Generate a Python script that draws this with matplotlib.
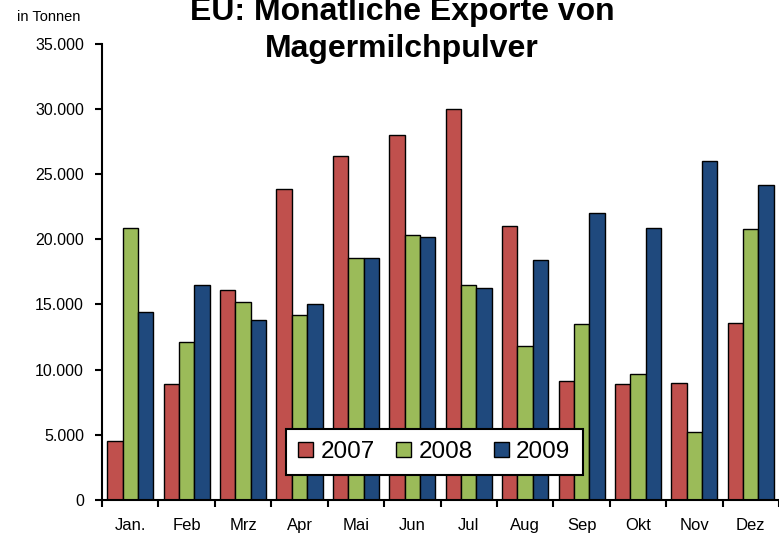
import numpy as np
import matplotlib
matplotlib.use("Agg")
import matplotlib.pyplot as plt
from matplotlib.ticker import FuncFormatter, FixedLocator

plt.rcParams['font.family'] = ['Liberation Sans', 'DejaVu Sans']

# data (tonnes)
months = ['Jan.', 'Feb', 'Mrz', 'Apr', 'Mai', 'Jun', 'Jul', 'Aug', 'Sep', 'Okt', 'Nov', 'Dez']
exp_2007 = [4500, 8900, 16100, 23900, 26400, 28000, 30000, 21000, 9100, 8900, 9000, 13600]
exp_2008 = [20900, 12100, 15200, 14200, 18600, 20300, 16500, 11800, 13500, 9700, 5200, 20800]
exp_2009 = [14400, 16500, 13800, 15000, 18600, 20200, 16300, 18400, 22000, 20900, 26000, 24200]
years = ['2007', '2008', '2009']
colors = ['#C0504D', '#9BBB59', '#1F497D']

fig = plt.figure(figsize=(7.79, 5.36), dpi=100)
ax = fig.add_axes([0.131, 0.0672, 0.869, 0.851])

x = np.arange(len(months))
w = 0.272
for i, (vals, lab, c) in enumerate(zip([exp_2007, exp_2008, exp_2009], years, colors)):
    ax.bar(x + (i - 1) * w, vals, width=w, color=c, edgecolor='black',
           linewidth=1.0, label=lab, zorder=2)

ax.set_xlim(-0.5, 11.5)
ax.set_ylim(0, 35000)
ax.set_yticks(np.arange(0, 35001, 5000))
ax.yaxis.set_major_formatter(FuncFormatter(lambda v, p: f"{int(v):,}".replace(',', '.')))
ax.set_xticks(x)
ax.set_xticklabels(months)
ax.xaxis.set_minor_locator(FixedLocator(np.arange(-0.5, 12, 1)))
ax.tick_params(axis='x', which='major', length=0, pad=13, labelsize=12)
ax.tick_params(axis='x', which='minor', length=5, width=1.5, direction='out')
ax.tick_params(axis='y', length=5, width=1.5, direction='out', labelsize=11.5, pad=8)

for s in ['top', 'right']:
    ax.spines[s].set_visible(False)
for s in ['left', 'bottom']:
    ax.spines[s].set_linewidth(1.5)

leg = ax.legend(loc='center', bbox_to_anchor=(0.491, 0.105), ncol=3, fontsize=17.5,
                frameon=True, fancybox=False, edgecolor='black', framealpha=1,
                handlelength=0.6, handleheight=0.6, handletextpad=0.3,
                columnspacing=0.9, borderpad=0.5)
leg.get_frame().set_linewidth(1.5)
leg.set_zorder(5)

# title: two lines, top line touches the figure edge as in the original
fig.text(0.516, 1 - 20 / 536, 'EU: Monatliche Exporte von', ha='center', va='baseline',
         fontsize=23, fontweight='bold')
fig.text(0.516, 1 - 57 / 536, 'Magermilchpulver', ha='center', va='baseline',
         fontsize=23, fontweight='bold')
fig.text(0.022, 0.968, 'in Tonnen', ha='left', va='center', fontsize=10.5)

fig.savefig('out.png', dpi=100)
